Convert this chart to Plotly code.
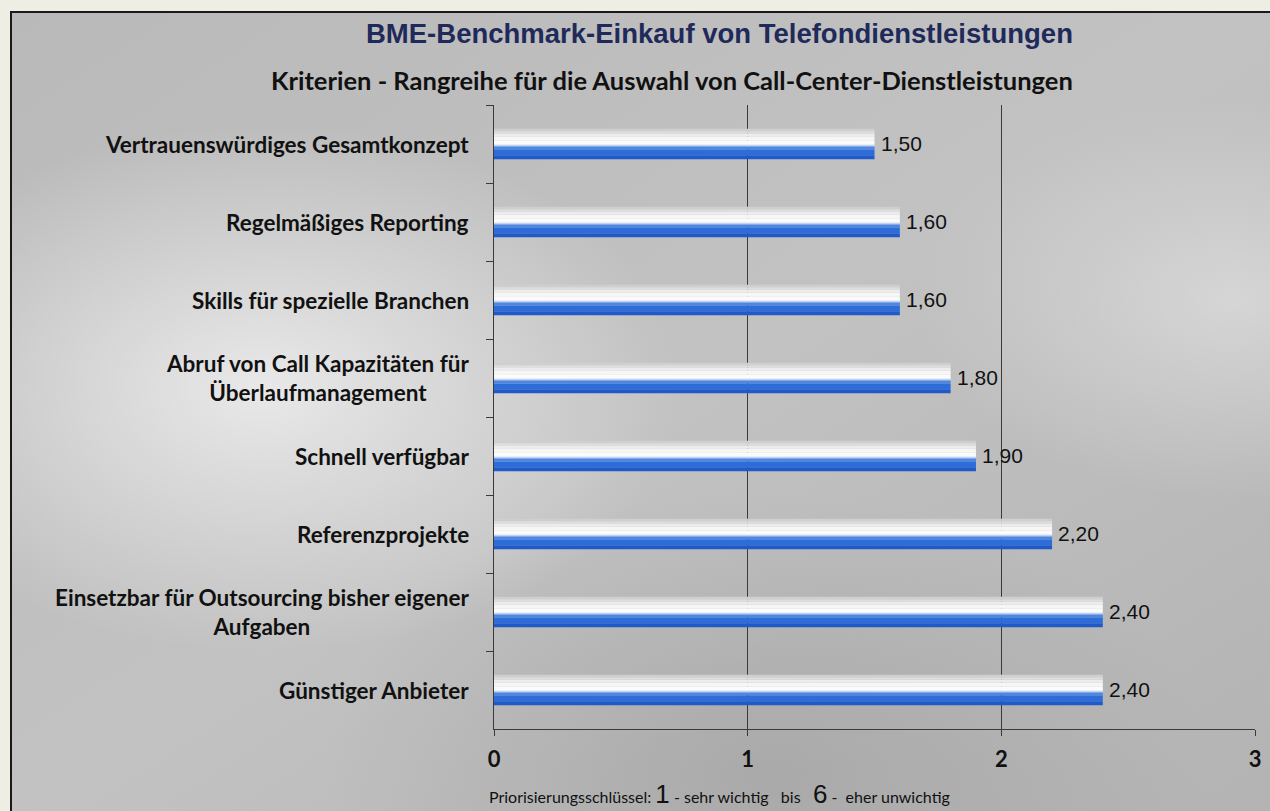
import base64
import plotly.graph_objects as go

# ---------------- data ----------------
categories = [
    "Vertrauenswürdiges Gesamtkonzept",
    "Regelmäßiges Reporting",
    "Skills für spezielle Branchen",
    "Abruf von Call Kapazitäten für<br>Überlaufmanagement",
    "Schnell verfügbar",
    "Referenzprojekte",
    "Einsetzbar für Outsourcing bisher eigener<br>Aufgaben",
    "Günstiger Anbieter",
]
values = [1.50, 1.60, 1.60, 1.80, 1.90, 2.20, 2.40, 2.40]
x_ticks = [0, 1, 2, 3]

title_text = "BME-Benchmark-Einkauf von Telefondienstleistungen"
subtitle_text = "Kriterien - Rangreihe für die Auswahl von Call-Center-Dienstleistungen"

# ---------------- layout geometry (pixels) ----------------
W, H = 1270, 811
L, R, T, B = 494, 1255, 105, 729   # plot area edges
PW, PH = R - L, B - T


def px2x(px):
    return (px - L) / PW


def px2y(py):
    return (B - py) / PH


# gradient bar: slices (top fraction, bottom fraction, colour)
BAR_W = 0.39
slices = [
    (0.00, 0.08, "#cfcfcf"),
    (0.08, 0.16, "#dedede"),
    (0.16, 0.26, "#ececec"),
    (0.26, 0.38, "#f6f6f6"),
    (0.38, 0.50, "#fbfbfb"),
    (0.50, 0.54, "#e9eff9"),
    (0.54, 0.58, "#bfd2f1"),
    (0.58, 0.62, "#84abe8"),
    (0.62, 0.68, "#4d87e1"),
    (0.68, 0.87, "#2d6cd9"),
    (0.87, 1.00, "#1f5ac8"),
]

fig = go.Figure()
for t0, t1, col in slices:
    fig.add_trace(go.Bar(
        x=values, y=categories, orientation="h",
        width=BAR_W * (t1 - t0), offset=-BAR_W / 2 + t0 * BAR_W,
        marker=dict(color=col, line=dict(width=0)),
        showlegend=False, hoverinfo="skip",
    ))

# background (gradient via svg image)
svg = """<svg xmlns='http://www.w3.org/2000/svg' width='1260' height='800' viewBox='0 0 1260 800'>
<defs>
<linearGradient id='g' x1='0' y1='0' x2='1' y2='1'>
<stop offset='0' stop-color='#b9b9b9'/>
<stop offset='0.5' stop-color='#c2c2c2'/>
<stop offset='1' stop-color='#b3b3b3'/>
</linearGradient>
<radialGradient id='r1' cx='0.2' cy='0.47' r='0.33'>
<stop offset='0' stop-color='#f0f0f0' stop-opacity='0.85'/>
<stop offset='1' stop-color='#f0f0f0' stop-opacity='0'/>
</radialGradient>
<radialGradient id='r2' cx='0.97' cy='0.36' r='0.25'>
<stop offset='0' stop-color='#e6e6e6' stop-opacity='0.6'/>
<stop offset='1' stop-color='#e6e6e6' stop-opacity='0'/>
</radialGradient>
<radialGradient id='r3' cx='0.6' cy='0.95' r='0.35'>
<stop offset='0' stop-color='#9c9c9c' stop-opacity='0.55'/>
<stop offset='1' stop-color='#9c9c9c' stop-opacity='0'/>
</radialGradient>
</defs>
<rect width='1260' height='800' fill='url(#g)'/>
<rect width='1260' height='800' fill='url(#r1)'/>
<rect width='1260' height='800' fill='url(#r2)'/>
<rect width='1260' height='800' fill='url(#r3)'/>
</svg>"""
src = "data:image/svg+xml;base64," + base64.b64encode(svg.encode()).decode()

fig.add_layout_image(dict(
    source=src, xref="paper", yref="paper",
    x=px2x(11), y=px2y(12), sizex=px2x(1272) - px2x(11),
    sizey=px2y(12) - px2y(813), sizing="stretch",
    xanchor="left", yanchor="top", layer="below",
))

shapes = [
    dict(type="rect", xref="paper", yref="paper",
         x0=px2x(11), x1=px2x(1275), y0=px2y(815), y1=px2y(12),
         line=dict(color="#1a1a1a", width=2), fillcolor="rgba(0,0,0,0)", layer="above"),
]

annotations = []
# category labels (centered multi-line, right anchored)
for c in categories:
    annotations.append(dict(
        text=c, xref="paper", yref="y", x=0, y=c, xanchor="right",
        xshift=-23, align="center", showarrow=False,
        font=dict(family="Lato", size=22.5, color="#111111", weight="bold"),
    ))

# value labels
for c, v in zip(categories, values):
    annotations.append(dict(
        text=f"{v:.2f}".replace(".", ","), xref="x", yref="y", x=v, y=c,
        xanchor="left", yanchor="middle", xshift=4, yshift=1, showarrow=False,
        font=dict(family="Liberation Sans, Arial", size=21, color="#111111"),
    ))

annotations += [
    dict(text=f"<b>{title_text}</b>", xref="paper", yref="paper",
         x=px2x(719), y=px2y(34), xanchor="center", yanchor="middle", showarrow=False,
         font=dict(family="Liberation Sans, Arial", size=27.5, color="#1f2a5a")),
    dict(text=f"<b>{subtitle_text}</b>", xref="paper", yref="paper",
         x=px2x(672), y=px2y(80), xanchor="center", yanchor="middle", showarrow=False,
         font=dict(family="Lato", size=25.5, color="#111111")),
    dict(text="Priorisierungsschlüssel: <span style='font-family:Liberation Sans;font-size:26px'>1</span>"
              " - sehr wichtig\u00a0\u00a0\u00a0bis\u00a0\u00a0\u00a0"
              "<span style='font-family:Liberation Sans;font-size:26px'>6</span> -\u00a0 eher unwichtig",
         xref="paper", yref="paper", x=px2x(487), y=px2y(794), xanchor="left", yanchor="middle",
         showarrow=False, font=dict(family="Lato", size=16, color="#111111")),
]

fig.update_layout(
    width=W, height=H,
    margin=dict(l=L, r=W - R, t=T, b=H - B, autoexpand=False),
    paper_bgcolor="#efeee4",
    plot_bgcolor="rgba(0,0,0,0)",
    barmode="overlay",
    separators=",.",
    shapes=shapes,
    annotations=annotations,
    xaxis=dict(
        range=[0, 3], tickvals=x_ticks, ticktext=[str(v) for v in x_ticks],
        showgrid=True, gridcolor="#3a3a3a", gridwidth=1, zeroline=False,
        showline=True, linecolor="#3a3a3a", linewidth=1,
        ticks="outside", ticklen=6, tickcolor="#3a3a3a",
        ticklabelstandoff=5,
        tickfont=dict(family="Lato", size=22, color="#111111", weight="bold"),
    ),
    yaxis=dict(
        autorange="reversed", categoryorder="array", categoryarray=categories,
        showticklabels=False, tickson="boundaries", ticks="outside", ticklen=7,
        tickcolor="#3a3a3a", showline=True, linecolor="#3a3a3a", linewidth=1,
        showgrid=False, zeroline=False,
    ),
)

fig.write_html("out.html", config={"displayModeBar": False},
               post_script="document.body.style.margin='0';document.body.style.padding='0';"
                           "document.body.style.overflow='hidden';")
